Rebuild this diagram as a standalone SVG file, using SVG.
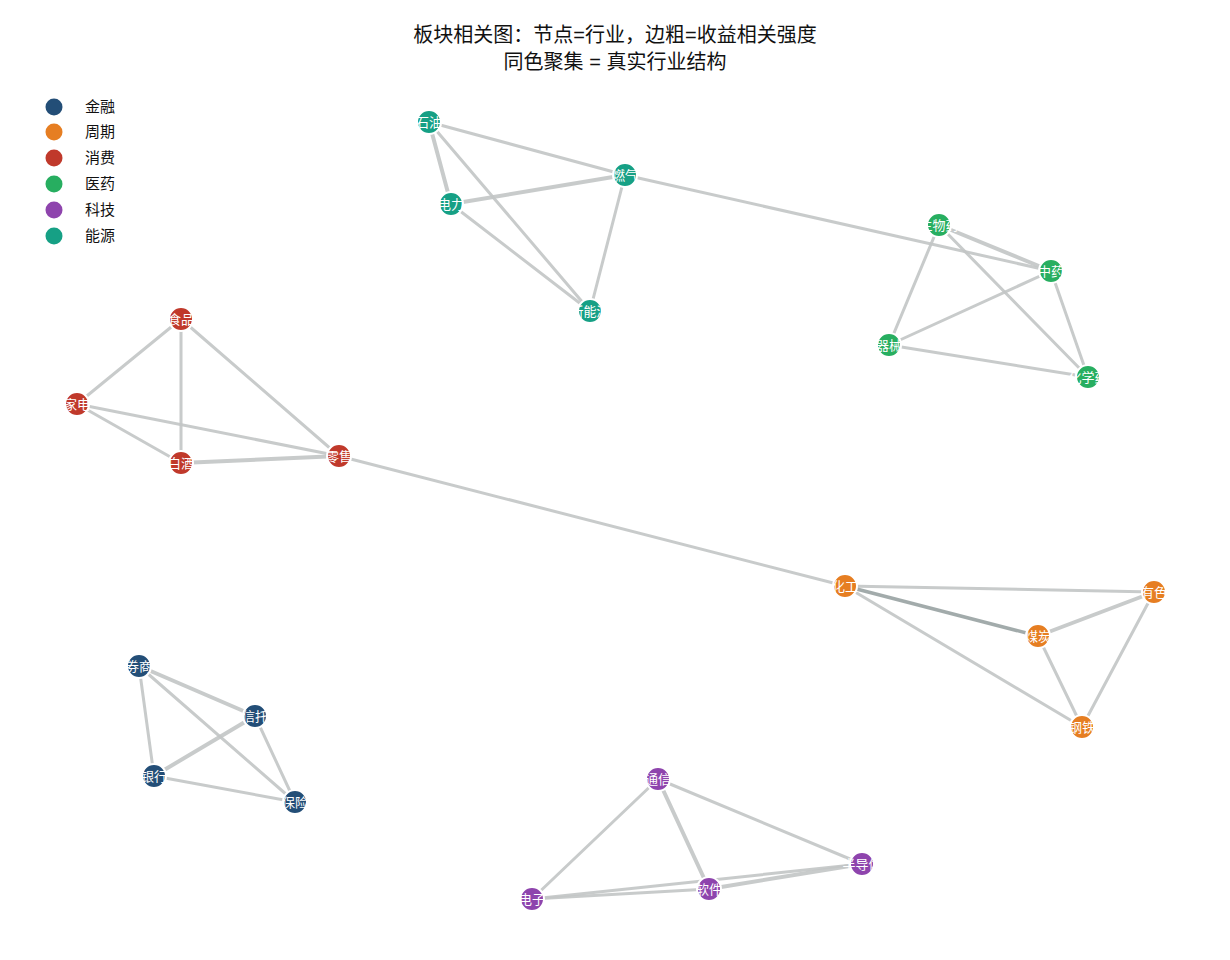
<svg xmlns="http://www.w3.org/2000/svg" width="1230" height="960" viewBox="0 0 1230 960">
<style>
text{font-family:"Liberation Sans","Noto Sans CJK SC",sans-serif}
.t{font-size:20px;fill:#111;text-anchor:middle}
.lg{font-size:15px;fill:#111}
#edges line{stroke:#c3c6c6;stroke-width:3;stroke-linecap:round;opacity:0.9}
#edges line.k{stroke-width:4}
#edges line.d{stroke:#99a3a3;stroke-width:3.5}
.n circle{stroke:#fff;stroke-width:2}
.n text{font-size:13px;fill:#fff;text-anchor:middle;dominant-baseline:central}
.fin{fill:#234e77}.cyc{fill:#e67e22}.con{fill:#c0392b}.med{fill:#27ae60}.tec{fill:#8e44ad}.ene{fill:#16a085}
</style>
<rect width="1230" height="960" fill="#fff"/>
<text class="t" x="615" y="42">板块相关图：节点=行业，边粗=收益相关强度</text>
<text class="t" x="615" y="69">同色聚集 = 真实行业结构</text>
<g id="legend">
<circle class="fin" cx="54" cy="107" r="8.5"/><text class="lg" x="85" y="112">金融</text>
<circle class="cyc" cx="54" cy="132" r="8.5"/><text class="lg" x="85" y="137">周期</text>
<circle class="con" cx="54" cy="158" r="8.5"/><text class="lg" x="85" y="163">消费</text>
<circle class="med" cx="54" cy="184" r="8.5"/><text class="lg" x="85" y="189">医药</text>
<circle class="tec" cx="54" cy="210" r="8.5"/><text class="lg" x="85" y="215">科技</text>
<circle class="ene" cx="54" cy="236" r="8.5"/><text class="lg" x="85" y="241">能源</text>
</g>
<g id="edges">
<line x1="429" y1="122" x2="625" y2="175"/>
<line class="k" x1="429" y1="122" x2="451" y2="204"/>
<line x1="429" y1="122" x2="590" y2="311"/>
<line class="k" x1="451" y1="204" x2="625" y2="175"/>
<line x1="451" y1="204" x2="590" y2="311"/>
<line x1="625" y1="175" x2="590" y2="311"/>
<line x1="625" y1="175" x2="1051" y2="271"/>
<line class="k" x1="939" y1="225" x2="1051" y2="271"/>
<line x1="939" y1="225" x2="889" y2="345"/>
<line x1="939" y1="225" x2="1088" y2="377"/>
<line x1="1051" y1="271" x2="889" y2="345"/>
<line x1="1051" y1="271" x2="1088" y2="377"/>
<line x1="889" y1="345" x2="1088" y2="377"/>
<line x1="181" y1="319" x2="77" y2="404"/>
<line x1="181" y1="319" x2="181" y2="463"/>
<line x1="181" y1="319" x2="339" y2="456"/>
<line x1="77" y1="404" x2="181" y2="463"/>
<line x1="77" y1="404" x2="339" y2="456"/>
<line class="k" x1="181" y1="463" x2="339" y2="456"/>
<line x1="339" y1="456" x2="845" y2="586"/>
<line x1="845" y1="586" x2="1154" y2="592"/>
<line class="d" x1="845" y1="586" x2="1038" y2="636"/>
<line x1="845" y1="586" x2="1082" y2="727"/>
<line class="k" x1="1038" y1="636" x2="1154" y2="592"/>
<line x1="1038" y1="636" x2="1082" y2="727"/>
<line x1="1154" y1="592" x2="1082" y2="727"/>
<line class="k" x1="139" y1="666" x2="255" y2="716"/>
<line x1="139" y1="666" x2="154" y2="776"/>
<line x1="139" y1="666" x2="295" y2="802"/>
<line class="k" x1="255" y1="716" x2="154" y2="776"/>
<line x1="255" y1="716" x2="295" y2="802"/>
<line x1="154" y1="776" x2="295" y2="802"/>
<line x1="658" y1="779" x2="532" y2="899"/>
<line class="k" x1="658" y1="779" x2="709" y2="889"/>
<line x1="658" y1="779" x2="862" y2="864"/>
<line x1="532" y1="899" x2="709" y2="889"/>
<line x1="532" y1="899" x2="862" y2="864"/>
<line class="k" x1="709" y1="889" x2="862" y2="864"/>
</g>
<g id="n-shiyou" class="n"><circle class="ene" cx="429" cy="122" r="12"/><text x="429" y="122">石油</text></g>
<g id="n-ranqi" class="n"><circle class="ene" cx="625" cy="175" r="12"/><text x="625" y="175">燃气</text></g>
<g id="n-dianli" class="n"><circle class="ene" cx="451" cy="204" r="12"/><text x="451" y="204">电力</text></g>
<g id="n-xinnengyuan" class="n"><circle class="ene" cx="590" cy="311" r="12"/><text x="590" y="311">新能源</text></g>
<g id="n-shengwuyao" class="n"><circle class="med" cx="939" cy="225" r="12"/><text x="939" y="225">生物药</text></g>
<g id="n-zhongyao" class="n"><circle class="med" cx="1051" cy="271" r="12"/><text x="1051" y="271">中药</text></g>
<g id="n-qixie" class="n"><circle class="med" cx="889" cy="345" r="12"/><text x="889" y="345">器械</text></g>
<g id="n-huaxueyao" class="n"><circle class="med" cx="1088" cy="377" r="12"/><text x="1088" y="377">化学药</text></g>
<g id="n-shipin" class="n"><circle class="con" cx="181" cy="319" r="12"/><text x="181" y="319">食品</text></g>
<g id="n-jiadian" class="n"><circle class="con" cx="77" cy="404" r="12"/><text x="77" y="404">家电</text></g>
<g id="n-baijiu" class="n"><circle class="con" cx="181" cy="463" r="12"/><text x="181" y="463">白酒</text></g>
<g id="n-lingshou" class="n"><circle class="con" cx="339" cy="456" r="12"/><text x="339" y="456">零售</text></g>
<g id="n-huagong" class="n"><circle class="cyc" cx="845" cy="586" r="12"/><text x="845" y="586">化工</text></g>
<g id="n-youse" class="n"><circle class="cyc" cx="1154" cy="592" r="12"/><text x="1154" y="592">有色</text></g>
<g id="n-meitan" class="n"><circle class="cyc" cx="1038" cy="636" r="12"/><text x="1038" y="636">煤炭</text></g>
<g id="n-gangtie" class="n"><circle class="cyc" cx="1082" cy="727" r="12"/><text x="1082" y="727">钢铁</text></g>
<g id="n-quanshang" class="n"><circle class="fin" cx="139" cy="666" r="12"/><text x="139" y="666">券商</text></g>
<g id="n-xintuo" class="n"><circle class="fin" cx="255" cy="716" r="12"/><text x="255" y="716">信托</text></g>
<g id="n-yinhang" class="n"><circle class="fin" cx="154" cy="776" r="12"/><text x="154" y="776">银行</text></g>
<g id="n-baoxian" class="n"><circle class="fin" cx="295" cy="802" r="12"/><text x="295" y="802">保险</text></g>
<g id="n-tongxin" class="n"><circle class="tec" cx="658" cy="779" r="12"/><text x="658" y="779">通信</text></g>
<g id="n-ruanjian" class="n"><circle class="tec" cx="709" cy="889" r="12"/><text x="709" y="889">软件</text></g>
<g id="n-bandaoti" class="n"><circle class="tec" cx="862" cy="864" r="12"/><text x="862" y="864">半导体</text></g>
<g id="n-dianzi" class="n"><circle class="tec" cx="532" cy="899" r="12"/><text x="532" y="899">电子</text></g>
</svg>
